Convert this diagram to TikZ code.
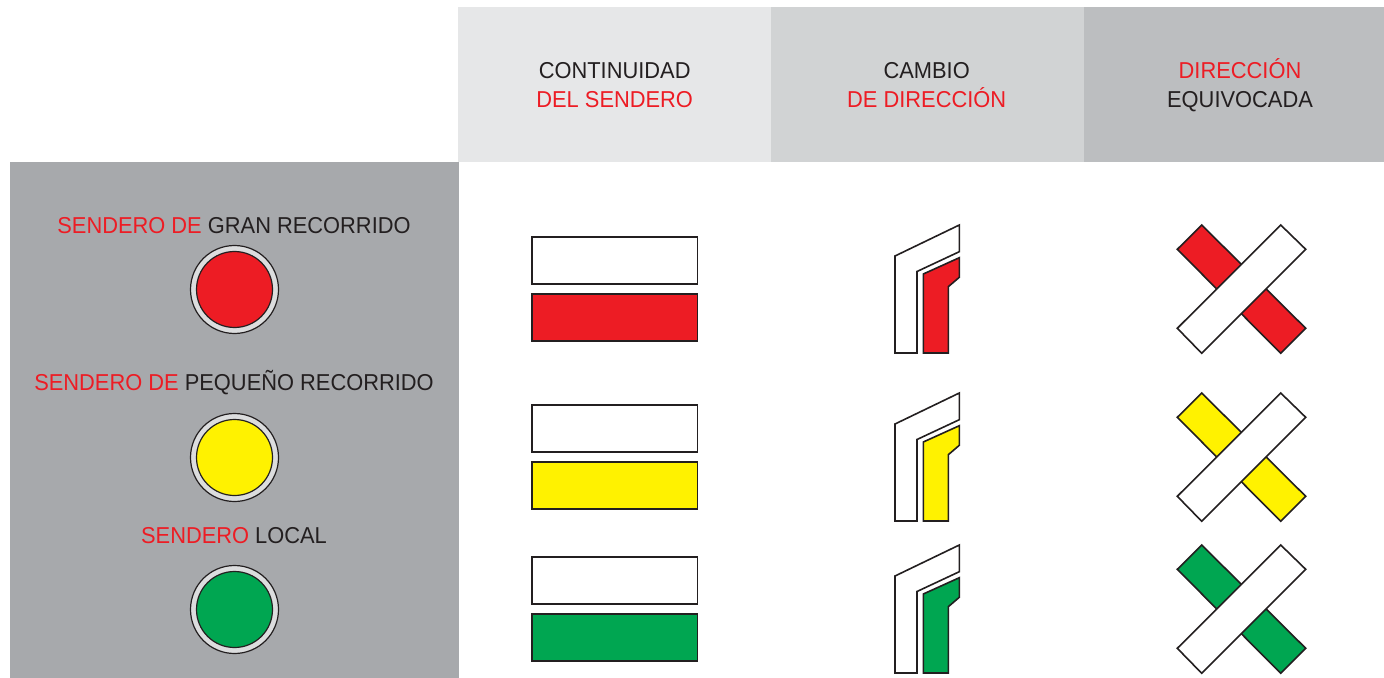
\documentclass[tikz,border=0pt]{standalone}
\usepackage{fontspec}
\setmainfont{Liberation Sans}[FakeStretch=0.95]
\usepackage{tikz}
\usetikzlibrary{shapes,positioning,calc}
\definecolor{rojo}{HTML}{ED1C24}
\definecolor{amarillo}{HTML}{FFF200}
\definecolor{verde}{HTML}{00A651}
\definecolor{texto}{HTML}{231F20}
\definecolor{gris0}{HTML}{DCDDDE}
\definecolor{gris1}{HTML}{E6E7E8}
\definecolor{gris2}{HTML}{D1D3D4}
\definecolor{gris3}{HTML}{BCBEC0}
\definecolor{gris4}{HTML}{A7A9AC}
\tikzstyle{rotulo} = [inner sep=0pt, anchor=base, text=texto, font=\fontsize{11.5}{14}\selectfont]
\tikzstyle{franja} = [rectangle, minimum width=82.75pt, minimum height=23.5pt, inner sep=0pt, draw=texto, line width=0.8pt]
\tikzstyle{marca} = [draw=texto, line width=0.8pt, line join=miter]
\tikzstyle{anillo} = [circle, minimum size=44pt, inner sep=0pt, draw=texto, line width=0.6pt, fill=gris0]
\tikzstyle{disco} = [circle, minimum size=38pt, inner sep=0pt, draw=texto, line width=0.6pt]

\begin{document}
\begin{tikzpicture}[x=0.5pt,y=-0.5pt]
\useasboundingbox (0,0) rectangle (1384,678);
% fondos
\fill[gris1] (458,7) rectangle (771,162.5);
\fill[gris2] (771,7) rectangle (1084,162.5);
\fill[gris3] (1084,7) rectangle (1384,162.5);
\fill[gris4] (10,162) rectangle (459,678);
% cabecera
\node (ca1) at (614.7,79) [rotulo] {CONTINUIDAD};
\node (cb1) at (614.7,107.7) [rotulo] {\color{rojo}DEL SENDERO};
\node (ca2) at (926.7,79) [rotulo] {CAMBIO};
\node (cb2) at (926.7,107.7) [rotulo] {\color{rojo}DE DIRECCIÓN};
\node (ca3) at (1240,79) [rotulo] {\color{rojo}DIRECCIÓN};
\node (cb3) at (1240,107.7) [rotulo] {EQUIVOCADA};
% tipos de sendero
\node (gr) at (234,233.3) [rotulo] {{\color{rojo}SENDERO DE} GRAN RECORRIDO};
\node (pr) at (234,390.7) [rotulo] {{\color{rojo}SENDERO DE} PEQUEÑO RECORRIDO};
\node (sl) at (234,543.3) [rotulo] {{\color{rojo}SENDERO} LOCAL};
\node (an1) at (234.5,289.5) [anillo] {};
\node (di1) at (234.5,289.5) [disco, fill=rojo] {};
\node (an2) at (234.5,457.5) [anillo] {};
\node (di2) at (234.5,457.5) [disco, fill=amarillo] {};
\node (an3) at (234.5,609.5) [anillo] {};
\node (di3) at (234.5,609.5) [disco, fill=verde] {};
% GR
\node (bl1) at (614.75,260.5) [franja, fill=white] {};
\node (co1) at (614.75,317.5) [franja, fill=rojo] {};
\draw[marca, fill=white] (895,353) -- (895,256) -- (959.3,225) -- (959.3,251.7) -- (917,271.5) -- (917,353) -- cycle;
\draw[marca, fill=rojo] (923.3,353) -- (923.3,274) -- (959.3,257.7) -- (959.3,277.3) -- (948.3,286.7) -- (948.3,353) -- cycle;
\draw[marca, fill=rojo] (1177.3,249.3) -- (1201.7,225) -- (1305.7,328.3) -- (1280.7,353.3) -- cycle;
\draw[marca, fill=white] (1177.3,328.3) -- (1201.7,353.3) -- (1305.7,249.3) -- (1280.7,225) -- cycle;
% PR
\begin{scope}[shift={(0,168)}]
\node (bl2) at (614.75,260.5) [franja, fill=white] {};
\node (co2) at (614.75,317.5) [franja, fill=amarillo] {};
\draw[marca, fill=white] (895,353) -- (895,256) -- (959.3,225) -- (959.3,251.7) -- (917,271.5) -- (917,353) -- cycle;
\draw[marca, fill=amarillo] (923.3,353) -- (923.3,274) -- (959.3,257.7) -- (959.3,277.3) -- (948.3,286.7) -- (948.3,353) -- cycle;
\draw[marca, fill=amarillo] (1177.3,249.3) -- (1201.7,225) -- (1305.7,328.3) -- (1280.7,353.3) -- cycle;
\draw[marca, fill=white] (1177.3,328.3) -- (1201.7,353.3) -- (1305.7,249.3) -- (1280.7,225) -- cycle;
\end{scope}
% SL
\begin{scope}[shift={(0,320)}]
\node (bl3) at (614.75,260.5) [franja, fill=white] {};
\node (co3) at (614.75,317.5) [franja, fill=verde] {};
\draw[marca, fill=white] (895,353) -- (895,256) -- (959.3,225) -- (959.3,251.7) -- (917,271.5) -- (917,353) -- cycle;
\draw[marca, fill=verde] (923.3,353) -- (923.3,274) -- (959.3,257.7) -- (959.3,277.3) -- (948.3,286.7) -- (948.3,353) -- cycle;
\draw[marca, fill=verde] (1177.3,249.3) -- (1201.7,225) -- (1305.7,328.3) -- (1280.7,353.3) -- cycle;
\draw[marca, fill=white] (1177.3,328.3) -- (1201.7,353.3) -- (1305.7,249.3) -- (1280.7,225) -- cycle;
\end{scope}
\end{tikzpicture}
\end{document}
